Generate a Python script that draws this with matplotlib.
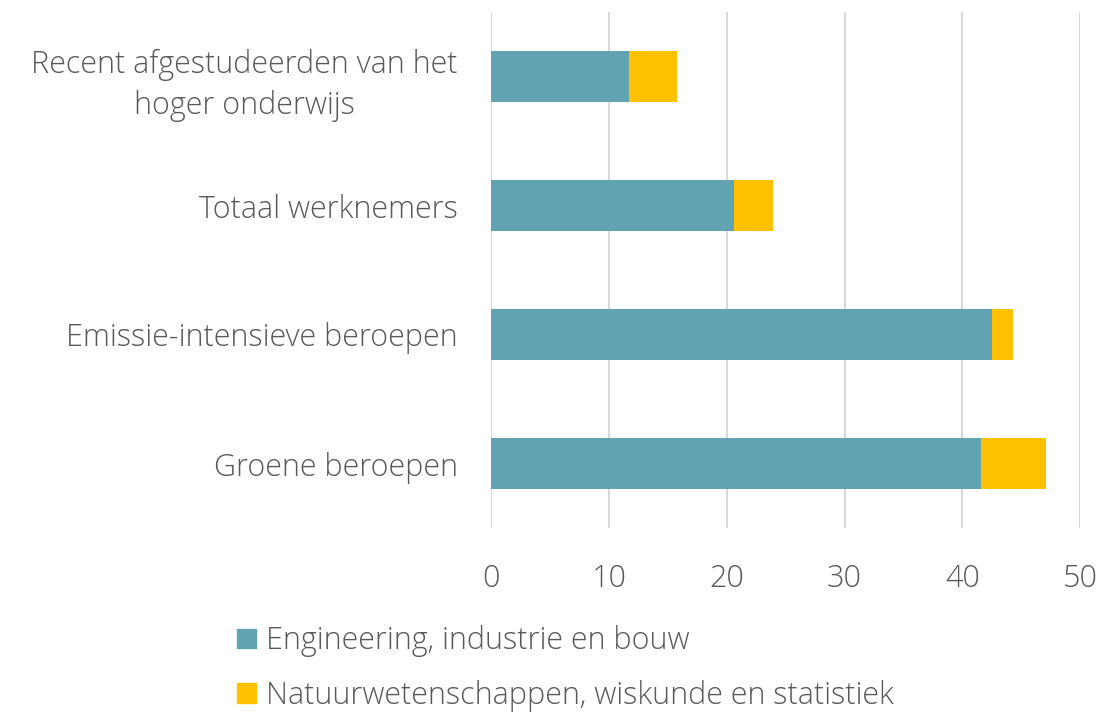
import matplotlib
matplotlib.use("Agg")
import matplotlib.pyplot as plt
from matplotlib.patches import Patch

categories = ["Recent afgestudeerden van het\nhoger onderwijs", "Totaal werknemers",
              "Emissie-intensieve beroepen", "Groene beroepen"]
engineering = [11.7, 20.6, 42.5, 41.6]
natuur = [4.1, 3.3, 1.8, 5.5]
series_names = ["Engineering, industrie en bouw",
                "Natuurwetenschappen, wiskunde en statistiek"]
xticks = [0, 10, 20, 30, 40, 50]

teal = "#62A3B2"
yellow = "#FFC000"
grey = "#595959"
fs = 22
fw = 'light'

plt.rcParams['font.family'] = ['Open Sans', 'DejaVu Sans']

fig = plt.figure(figsize=(11.02, 7.15), dpi=100)
ax = fig.add_axes([491.3/1102, 1 - 528/715, (1080 - 491.3)/1102, (528 - 12)/715])

y = list(range(len(categories)))
ax.barh(y, engineering, height=0.4, color=teal, label=series_names[0], zorder=3)
ax.barh(y, natuur, left=engineering, height=0.4, color=yellow, label=series_names[1], zorder=3)

ax.set_xlim(0, 50)
ax.set_ylim(3.5, -0.5)
ax.set_xticks(xticks)
ax.set_xticklabels([str(v) for v in xticks], fontsize=fs, color=grey, fontweight=fw)
ax.set_yticks(y)
ax.set_yticklabels(categories, fontsize=fs, color=grey, ha='right', fontweight=fw)
ax.tick_params(axis='y', length=0, pad=24)
ax.tick_params(axis='x', length=0, pad=25)
ax.xaxis.grid(True, color="#D9D9D9", linewidth=1.5, zorder=0)
for s in ax.spines.values():
    s.set_visible(False)

for lbl in ax.get_yticklabels():
    lbl.set_multialignment('center')
    lbl.set_linespacing(1.4)

handles = [Patch(color=teal, label=series_names[0]), Patch(color=yellow, label=series_names[1])]
leg = fig.legend(handles=handles, loc='upper left', bbox_to_anchor=(225/1102, 1 - 613/715),
                 frameon=False, fontsize=fs, labelcolor=grey, handlelength=0.62, handleheight=0.62,
                 handletextpad=0.33, labelspacing=0.75, borderaxespad=0,
                 prop={'size': fs, 'weight': fw})

fig.savefig("out.png", dpi=100, facecolor="white")
